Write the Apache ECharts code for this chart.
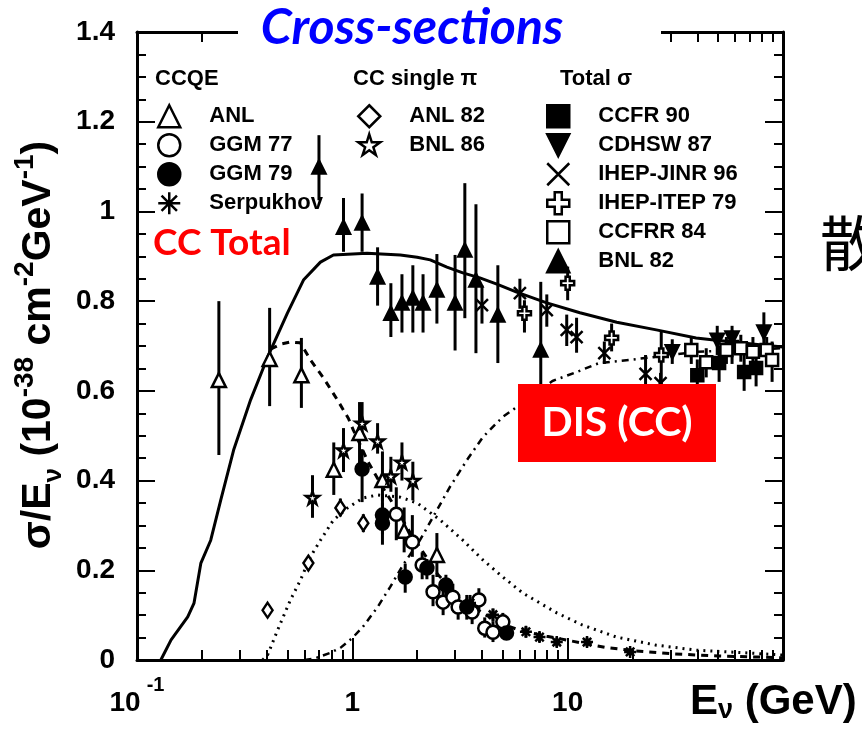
<!DOCTYPE html>
<html><head><meta charset="utf-8">
<script src="https://cdn.jsdelivr.net/npm/echarts@6/dist/echarts.min.js"></script>
<style>html,body{margin:0;padding:0;background:#fff}#c{width:862px;height:729px}</style>
</head><body><div id="c"></div>
<script>
// ================= DATA =================
const xMajorTicks = [0.1, 1, 10, 100];
const totalE = [0.129,0.144,0.172,0.184,0.198,0.22,0.245,0.281,0.337,0.404,0.50,0.593,0.711,0.817,1.17,1.67,2.0,2.3,2.75,3.26,3.91,4.69,5.8,8.0,11.4,16.9,25.8,39.5,49,80,100];
const totalS = [0,0.045,0.096,0.127,0.216,0.267,0.357,0.468,0.580,0.675,0.774,0.847,0.887,0.903,0.907,0.903,0.898,0.892,0.876,0.863,0.852,0.838,0.820,0.796,0.774,0.753,0.736,0.718,0.713,0.702,0.698];
const qeE = [0.417,0.464,0.516,0.574,0.639,0.734,0.852,0.958,1.01,1.186,1.39,1.58,1.86,2.1,2.5,3.0,4.0,5.0,6.0,8.0,10,15,20,30,50,100];
const qeS = [0.693,0.704,0.709,0.707,0.669,0.629,0.580,0.539,0.513,0.441,0.383,0.341,0.283,0.245,0.19,0.15,0.105,0.08,0.066,0.053,0.044,0.028,0.021,0.014,0.009,0.005];
const pionE = [0.383,0.404,0.45,0.516,0.574,0.639,0.711,0.817,0.95,1.12,1.31,1.67,2.0,2.22,2.56,3.26,4.04,5.0,6.2,8.9,11.7,16.9,25.8,39.5,67,100];
const pionS = [0,0.011,0.067,0.134,0.178,0.23,0.267,0.312,0.339,0.361,0.368,0.363,0.35,0.334,0.312,0.267,0.223,0.185,0.149,0.105,0.078,0.051,0.033,0.022,0.016,0.011];
const disE = [0.6,0.674,0.79,0.88,1.0,1.12,1.31,1.5,1.72,2.06,2.47,2.84,3.41,4.04,5.0,5.8,8.5,11.0,14.0,19.4,40,100];
const disS = [0,0.004,0.016,0.027,0.049,0.074,0.118,0.163,0.212,0.267,0.334,0.386,0.446,0.497,0.542,0.564,0.622,0.642,0.662,0.669,0.687,0.695];

const anlE  = [0.24,0.413,0.58,0.82,1.08,1.38,1.74,2.47];
const anlS  = [0.624,0.671,0.635,0.424,0.506,0.401,0.288,0.234];
const anlLo = [0.457,0.566,0.562,0.368,0.43,0.355,0.24,0.185];
const anlHi = [0.80,0.785,0.718,0.485,0.575,0.465,0.34,0.283];
const ggm77E  = [1.6,1.9,2.11,2.37,2.64,2.93,3.1,3.6,3.87,4.12,4.5,5.0];
const ggm77S  = [0.325,0.263,0.212,0.152,0.129,0.14,0.118,0.107,0.134,0.071,0.062,0.085];
const ggm77Lo = [0.267,0.23,0.18,0.12,0.1,0.11,0.09,0.08,0.11,0.05,0.04,0.065];
const ggm77Hi = [0.385,0.323,0.24,0.19,0.16,0.17,0.145,0.135,0.16,0.095,0.085,0.105];
const ggm79E  = [1.11,1.38,1.38,1.76,2.22,2.72,3.4,5.2];
const ggm79S  = [0.426,0.305,0.323,0.185,0.205,0.167,0.118,0.06];
const ggm79Lo = [0.352,0.257,0.28,0.15,0.18,0.14,0.09,0.045];
const ggm79Hi = [0.47,0.35,0.37,0.215,0.225,0.19,0.145,0.075];
const serpE  = [3.52,4.5,6.4,7.4,8.9,12.3,19.5];
const serpS  = [0.127,0.101,0.063,0.051,0.04,0.04,0.018];
const serpLo = [0.11,0.085,0.05,0.04,0.03,0.03,0.01];
const serpHi = [0.145,0.115,0.075,0.062,0.05,0.05,0.026];
const anl82E  = [0.404,0.625,0.88,1.125];
const anl82S  = [0.111,0.216,0.339,0.305];
const anl82Lo = [0.111,0.216,0.32,0.285];
const anl82Hi = [0.111,0.216,0.36,0.325];
const bnl86E  = [0.653,0.91,1.11,1.31,1.51,1.70,1.91];
const bnl86S  = [0.362,0.468,0.528,0.488,0.41,0.441,0.40];
const bnl86Lo = [0.317,0.419,0.49,0.46,0.375,0.40,0.356];
const bnl86Hi = [0.412,0.517,0.575,0.528,0.453,0.485,0.442];
const ccfr90E  = [40,50.5,58,66,75];
const ccfr90S  = [0.635,0.662,0.698,0.642,0.651];
const ccfr90Lo = [0.6,0.62,0.66,0.6,0.61];
const ccfr90Hi = [0.67,0.7,0.735,0.68,0.69];
const cdhswE  = [30.6,49.5,58,81.5];
const cdhswS  = [0.687,0.713,0.718,0.731];
const cdhswLo = [0.66,0.68,0.69,0.70];
const cdhswHi = [0.715,0.745,0.745,0.775];
const jinrE  = [4.0,6.0,8.0,9.9,11.0,14.8,23,27];
const jinrS  = [0.791,0.818,0.780,0.736,0.72,0.684,0.638,0.617];
const jinrLo = [0.75,0.783,0.743,0.70,0.685,0.66,0.61,0.59];
const jinrHi = [0.835,0.85,0.815,0.77,0.763,0.71,0.68,0.64];
const itepE  = [6.3,10.0,16.0,27.2];
const itepS  = [0.773,0.840,0.718,0.68];
const itepLo = [0.73,0.802,0.688,0.615];
const itepHi = [0.802,0.877,0.75,0.735];
const ccfrr84E  = [37.5,44,54.6,63.7,72.5,84,89];
const ccfrr84S  = [0.691,0.664,0.691,0.695,0.687,0.691,0.669];
const ccfrr84Lo = [0.66,0.63,0.66,0.665,0.655,0.66,0.62];
const ccfrr84Hi = [0.72,0.695,0.72,0.725,0.72,0.72,0.71];
const bnl82E  = [0.70,0.91,1.11,1.31,1.51,1.70,1.91,2.13,2.47,3.0,3.33,3.75,4.74,7.5];
const bnl82S  = [1.099,0.965,0.974,0.854,0.773,0.796,0.807,0.796,0.825,0.796,0.914,0.847,0.769,0.691];
const bnl82Lo = [1.025,0.91,0.91,0.79,0.72,0.73,0.73,0.73,0.75,0.69,0.762,0.684,0.662,0.50];
const bnl82Hi = [1.17,1.03,1.04,0.92,0.84,0.86,0.88,0.86,0.905,0.903,1.063,1.016,0.88,0.843];

// ================= STYLE / BUILD =================
const STAR = 'path://M50,0 L61,35 L98,35 L68,57 L79,91 L50,70 L21,91 L32,57 L2,35 L39,35 Z';
const XMARK = 'path://M0,0 L10,10 M10,0 L0,10';
const ASTER = 'path://M5,0 L5,10 M0,5 L10,5 M1.5,1.5 L8.5,8.5 M8.5,1.5 L1.5,8.5';
const PLUS = 'path://M3.4,0 H6.6 V3.4 H10 V6.6 H6.6 V10 H3.4 V6.6 H0 V3.4 H3.4 Z';
const DOWNTRI = 'path://M0,0 L10,0 L5,10 Z';
const NONE = 'rgba(0,0,0,0)';

const sets = [
  {name:'ANL', E:anlE, S:anlS, lo:anlLo, hi:anlHi, symbol:'triangle', size:14, fill:'#fff'},
  {name:'GGM 77', E:ggm77E, S:ggm77S, lo:ggm77Lo, hi:ggm77Hi, symbol:'circle', size:13, fill:'#fff'},
  {name:'GGM 79', E:ggm79E, S:ggm79S, lo:ggm79Lo, hi:ggm79Hi, symbol:'circle', size:13, fill:'#000'},
  {name:'Serpukhov', E:serpE, S:serpS, lo:serpLo, hi:serpHi, symbol:ASTER, size:12, fill:NONE},
  {name:'ANL 82', E:anl82E, S:anl82S, lo:anl82Lo, hi:anl82Hi, symbol:'diamond', size:[10,15], fill:'#fff'},
  {name:'BNL 86', E:bnl86E, S:bnl86S, lo:bnl86Lo, hi:bnl86Hi, symbol:STAR, size:13, fill:'#fff'},
  {name:'CCFR 90', E:ccfr90E, S:ccfr90S, lo:ccfr90Lo, hi:ccfr90Hi, symbol:'rect', size:12, fill:'#000'},
  {name:'CDHSW 87', E:cdhswE, S:cdhswS, lo:cdhswLo, hi:cdhswHi, symbol:DOWNTRI, size:13, fill:'#000'},
  {name:'IHEP-JINR 96', E:jinrE, S:jinrS, lo:jinrLo, hi:jinrHi, symbol:XMARK, size:12, fill:NONE},
  {name:'IHEP-ITEP 79', E:itepE, S:itepS, lo:itepLo, hi:itepHi, symbol:PLUS, size:13, fill:'#fff'},
  {name:'CCFRR 84', E:ccfrr84E, S:ccfrr84S, lo:ccfrr84Lo, hi:ccfrr84Hi, symbol:'rect', size:12, fill:'#fff'},
  {name:'BNL 82', E:bnl82E, S:bnl82S, lo:bnl82Lo, hi:bnl82Hi, symbol:'triangle', size:13, fill:'#000'}
];

function errRender(params, api) {
  const x = api.value(0);
  const p1 = api.coord([x, api.value(1)]);
  const p2 = api.coord([x, api.value(2)]);
  return {type:'line', shape:{x1:p1[0], y1:p1[1], x2:p2[0], y2:p2[1]}, style:{stroke:'#000', lineWidth:3}};
}

const series = [];
function curve(E, S, type, width) {
  series.push({type:'line', data:E.map((e,i)=>[e,S[i]]), showSymbol:false, symbol:'none',
    lineStyle:{color:'#000', width:width, type:type}, z:1, silent:true});
}
curve(totalE, totalS, 'solid', 3);
curve(qeE, qeS, [7,6], 3);
curve(pionE, pionS, [2,5], 3);
curve(disE, disS, [7,5,2,5], 2.5);

sets.forEach(s => {
  series.push({type:'custom', name:'err_'+s.name, renderItem:errRender, z:2,
    encode:{x:0, y:[1,2]}, data:s.E.map((e,i)=>[e, s.lo[i], s.hi[i]]), silent:true});
});
sets.forEach(s => {
  series.push({type:'scatter', name:s.name, symbol:s.symbol, symbolSize:s.size,
    data:s.E.map((e,i)=>[e, s.S[i]]), z:3,
    itemStyle:{color:s.fill, borderColor:'#000', borderWidth:2.5, opacity:1}});
});

// minor tick positions for the log axis (helper axis in log10 space)
const minorTickPos = [];
[-1,0,1].forEach(d => { for (let k=2;k<=9;k++) minorTickPos.push(d + Math.log10(k)); });

const FONT = 'Liberation Sans';
const legendCommon = {orient:'vertical', itemWidth:22, itemHeight:22, itemGap:4.5, padding:0,
  selectedMode:false,
  itemStyle:{borderWidth:2.5},
  textStyle:{fontFamily:FONT, fontSize:22, fontWeight:'bold', color:'#000', padding:[0,0,0,24]}};

const xLabelRich = {
  b:{fontFamily:FONT, fontSize:28, fontWeight:'bold', color:'#000', lineHeight:56},
  s:{fontFamily:FONT, fontSize:20, fontWeight:'bold', color:'#000', lineHeight:20, verticalAlign:'top', padding:[0,0,0,6]}
};
const tickStyle = {color:'#000', width:2};

const option = {
  animation:false,
  backgroundColor:'#fff',
  grid:{left:137, right:79, top:32, bottom:69, containLabel:false},
  xAxis:[
    {type:'log', logBase:10, min:0.1, max:100, position:'bottom',
      axisLine:{show:true, onZero:false, lineStyle:{color:'#000', width:3}},
      axisTick:{show:true, inside:true, length:22, lineStyle:tickStyle},
      axisLabel:{show:true, margin:15, rich:xLabelRich,
        formatter:v => { const p = Math.round(Math.log10(v)); if (p===-1) return '{b|10}{s|-1}'; if (p===0) return '{b|1}'; if (p===1) return '{b|10}'; return ''; }},
      splitLine:{show:false}},
    {type:'value', min:-1, max:2, position:'bottom', axisLine:{show:false, onZero:false},
      axisTick:{show:true, inside:true, length:10, customValues:minorTickPos, lineStyle:tickStyle},
      axisLabel:{show:false}, splitLine:{show:false}},
    {type:'log', logBase:10, min:0.1, max:100, position:'top',
      axisLine:{show:true, onZero:false, lineStyle:{color:'#000', width:3}},
      axisTick:{show:true, inside:true, length:22, lineStyle:tickStyle},
      axisLabel:{show:false}, splitLine:{show:false}},
    {type:'value', min:-1, max:2, position:'top', axisLine:{show:false, onZero:false},
      axisTick:{show:true, inside:true, length:10, customValues:minorTickPos, lineStyle:tickStyle},
      axisLabel:{show:false}, splitLine:{show:false}}
  ],
  yAxis:[
    {type:'value', min:0, max:1.4, interval:0.2, position:'left',
      axisLine:{show:true, onZero:false, lineStyle:{color:'#000', width:3}},
      axisTick:{show:true, inside:true, length:18, lineStyle:tickStyle},
      minorTick:{show:true, splitNumber:4, length:9, lineStyle:tickStyle},
      axisLabel:{show:true, margin:22, fontFamily:FONT, fontSize:28, fontWeight:'bold', color:'#000'},
      splitLine:{show:false}},
    {type:'value', min:0, max:1.4, interval:0.2, position:'right',
      axisLine:{show:true, onZero:false, lineStyle:{color:'#000', width:3}},
      axisTick:{show:true, inside:true, length:18, lineStyle:tickStyle},
      minorTick:{show:true, splitNumber:4, length:9, lineStyle:tickStyle},
      axisLabel:{show:false}, splitLine:{show:false}}
  ],
  legend:[
    Object.assign({}, legendCommon, {left:157, top:104, data:['ANL','GGM 77','GGM 79','Serpukhov']}),
    Object.assign({}, legendCommon, {left:357, top:104, data:['ANL 82','BNL 86']}),
    Object.assign({}, legendCommon, {left:546, top:104, data:['CCFR 90','CDHSW 87','IHEP-JINR 96','IHEP-ITEP 79','CCFRR 84','BNL 82']})
  ],
  series: series,
  graphic:[
    {type:'rect', z:100, shape:{x:238, y:0, width:423, height:56}, style:{fill:'#fff'}},
    {type:'text', z:101, x:412, y:28, style:{text:'Cross-sections', fill:'#0000ff', font:'italic bold 50px Lato',
      align:'center', verticalAlign:'middle'}},
    {type:'text', z:101, x:155, y:79, style:{text:'CCQE', fill:'#000', font:'bold 22px "Liberation Sans"', verticalAlign:'middle'}},
    {type:'text', z:101, x:353, y:79, style:{text:'CC single π', fill:'#000', font:'bold 22px "Liberation Sans"', verticalAlign:'middle'}},
    {type:'text', z:101, x:560, y:79, style:{text:'Total σ', fill:'#000', font:'bold 22px "Liberation Sans"', verticalAlign:'middle'}},
    {type:'text', z:101, x:153, y:243, style:{text:'CC Total', fill:'#ff0000', font:'bold 37px Lato', verticalAlign:'middle'}},
    {type:'rect', z:100, shape:{x:518, y:384, width:198, height:78}, style:{fill:'#ff0000'}},
    {type:'text', z:101, x:617, y:423, style:{text:'DIS (CC)', fill:'#fff', font:'bold 41px Lato', align:'center', verticalAlign:'middle'}},
    {type:'text', z:101, x:820, y:243, style:{text:'散乱', fill:'#000', font:'60px "Noto Sans CJK JP"', verticalAlign:'middle'}},
    {type:'text', z:101, x:39, y:345, rotation:Math.PI/2, style:{
      text:'{a|σ/E}{sub|ν}{a| (10}{sup|-38}{a| cm}{sup|-2}{a|GeV}{sup|-1}{a|)}',
      align:'center', verticalAlign:'middle',
      rich:{
        a:{fontFamily:FONT, fontSize:41, fontWeight:'bold', fill:'#000', lineHeight:56},
        sup:{fontFamily:FONT, fontSize:28, fontWeight:'bold', fill:'#000', lineHeight:28, verticalAlign:'top'},
        sub:{fontFamily:FONT, fontSize:26, fontWeight:'bold', fill:'#000', lineHeight:24, verticalAlign:'bottom'}
      }}},
    {type:'text', z:101, x:690, y:680, style:{
      text:'{a|E}{sub|ν}{a| (GeV)}', verticalAlign:'top',
      rich:{
        a:{fontFamily:FONT, fontSize:42, fontWeight:'bold', fill:'#000', lineHeight:44},
        sub:{fontFamily:FONT, fontSize:27, fontWeight:'bold', fill:'#000', lineHeight:22, verticalAlign:'bottom'}
      }}}
  ]
};

const chart = echarts.init(document.getElementById('c'), null, {renderer:'canvas'});
chart.setOption(option);
</script>
</body></html>
